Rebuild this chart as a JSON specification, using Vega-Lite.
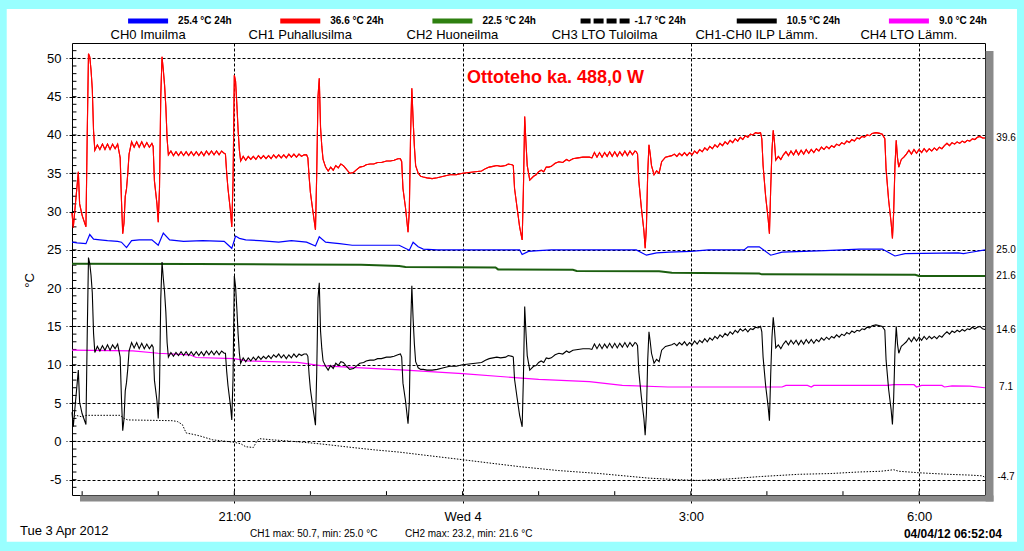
{
  "$schema": "https://vega.github.io/schema/vega-lite/v6.json",
  "width": 913,
  "height": 452,
  "autosize": "none",
  "padding": {"left": 72, "top": 43, "right": 39, "bottom": 56},
  "background": "white",
  "config": {
    "font": "Liberation Sans",
    "view": {"stroke": "black", "strokeWidth": 1},
    "locale": {"number": {"decimal": ".", "thousands": ",", "grouping": [3], "currency": ["$", ""], "minus": "-"}},
    "axis": {
      "zindex": 1,
      "domain": false,
      "gridColor": "black",
      "gridDash": [3, 2],
      "gridOpacity": 1,
      "gridWidth": 1,
      "tickColor": "black",
      "tickDash": [3, 2],
      "tickWidth": 1,
      "labelFont": "Liberation Sans",
      "labelFontSize": 13,
      "labelColor": "black",
      "titleFont": "Liberation Sans",
      "titleFontSize": 13,
      "titleFontWeight": "normal",
      "titleColor": "black"
    }
  },
  "datasets": {
    "f": [
      {"t": "2012-04-03T18:52", "ch1": 29.8, "ilp": 3.8},
      {"t": "2012-04-03T18:53", "ch1": 27.9, "ilp": 1.9},
      {"t": "2012-04-03T18:57", "ch1": 35.2, "ilp": 9.3},
      {"t": "2012-04-03T18:58", "ch1": 31.0, "ilp": 5.1},
      {"t": "2012-04-03T19:00", "ch1": 29.5, "ilp": 3.6},
      {"t": "2012-04-03T19:03", "ch1": 28.0, "ilp": 2.2},
      {"t": "2012-04-03T19:04", "ch1": 40.0, "ilp": 13.8},
      {"t": "2012-04-03T19:05", "ch1": 50.6, "ilp": 24.0},
      {"t": "2012-04-03T19:06", "ch1": 50.2, "ilp": 23.2},
      {"t": "2012-04-03T19:07", "ch1": 48.5, "ilp": 21.7},
      {"t": "2012-04-03T19:08", "ch1": 46.0, "ilp": 19.4},
      {"t": "2012-04-03T19:09", "ch1": 40.5, "ilp": 14.1},
      {"t": "2012-04-03T19:10", "ch1": 38.0, "ilp": 11.6},
      {"t": "2012-04-03T19:12", "ch1": 38.7, "ilp": 12.4},
      {"t": "2012-04-03T19:14", "ch1": 38.1, "ilp": 11.8},
      {"t": "2012-04-03T19:16", "ch1": 38.8, "ilp": 12.5},
      {"t": "2012-04-03T19:18", "ch1": 38.1, "ilp": 11.9},
      {"t": "2012-04-03T19:20", "ch1": 38.8, "ilp": 12.6},
      {"t": "2012-04-03T19:22", "ch1": 38.1, "ilp": 11.9},
      {"t": "2012-04-03T19:24", "ch1": 38.8, "ilp": 12.6},
      {"t": "2012-04-03T19:26", "ch1": 38.2, "ilp": 12.1},
      {"t": "2012-04-03T19:28", "ch1": 38.8, "ilp": 12.7},
      {"t": "2012-04-03T19:30", "ch1": 37.0, "ilp": 11.0},
      {"t": "2012-04-03T19:31", "ch1": 31.5, "ilp": 5.6},
      {"t": "2012-04-03T19:32", "ch1": 27.1, "ilp": 1.4},
      {"t": "2012-04-03T19:33", "ch1": 28.5, "ilp": 2.9},
      {"t": "2012-04-03T19:34", "ch1": 32.0, "ilp": 6.6},
      {"t": "2012-04-03T19:35", "ch1": 33.0, "ilp": 7.7},
      {"t": "2012-04-03T19:36", "ch1": 35.0, "ilp": 9.5},
      {"t": "2012-04-03T19:37", "ch1": 37.5, "ilp": 11.8},
      {"t": "2012-04-03T19:39", "ch1": 39.1, "ilp": 12.9},
      {"t": "2012-04-03T19:41", "ch1": 38.4, "ilp": 12.2},
      {"t": "2012-04-03T19:43", "ch1": 39.1, "ilp": 12.9},
      {"t": "2012-04-03T19:45", "ch1": 38.4, "ilp": 12.1},
      {"t": "2012-04-03T19:47", "ch1": 39.1, "ilp": 12.8},
      {"t": "2012-04-03T19:49", "ch1": 38.4, "ilp": 12.1},
      {"t": "2012-04-03T19:51", "ch1": 39.0, "ilp": 12.7},
      {"t": "2012-04-03T19:53", "ch1": 38.4, "ilp": 12.1},
      {"t": "2012-04-03T19:55", "ch1": 38.9, "ilp": 12.6},
      {"t": "2012-04-03T19:56", "ch1": 38.5, "ilp": 12.3},
      {"t": "2012-04-03T19:57", "ch1": 34.0, "ilp": 8.0},
      {"t": "2012-04-03T19:59", "ch1": 31.0, "ilp": 5.3},
      {"t": "2012-04-03T20:00", "ch1": 28.6, "ilp": 3.0},
      {"t": "2012-04-03T20:01", "ch1": 33.0, "ilp": 7.0},
      {"t": "2012-04-03T20:02", "ch1": 45.0, "ilp": 18.6},
      {"t": "2012-04-03T20:03", "ch1": 50.2, "ilp": 23.4},
      {"t": "2012-04-03T20:04", "ch1": 48.5, "ilp": 21.3},
      {"t": "2012-04-03T20:05", "ch1": 46.5, "ilp": 19.5},
      {"t": "2012-04-03T20:06", "ch1": 43.7, "ilp": 16.9},
      {"t": "2012-04-03T20:07", "ch1": 39.5, "ilp": 12.9},
      {"t": "2012-04-03T20:08", "ch1": 37.4, "ilp": 11.0},
      {"t": "2012-04-03T20:10", "ch1": 37.9, "ilp": 11.6},
      {"t": "2012-04-03T20:12", "ch1": 37.3, "ilp": 11.1},
      {"t": "2012-04-03T20:14", "ch1": 37.8, "ilp": 11.6},
      {"t": "2012-04-03T20:16", "ch1": 37.3, "ilp": 11.2},
      {"t": "2012-04-03T20:18", "ch1": 37.8, "ilp": 11.7},
      {"t": "2012-04-03T20:20", "ch1": 37.3, "ilp": 11.2},
      {"t": "2012-04-03T20:22", "ch1": 37.8, "ilp": 11.7},
      {"t": "2012-04-03T20:24", "ch1": 37.3, "ilp": 11.2},
      {"t": "2012-04-03T20:26", "ch1": 37.8, "ilp": 11.7},
      {"t": "2012-04-03T20:28", "ch1": 37.3, "ilp": 11.2},
      {"t": "2012-04-03T20:30", "ch1": 37.8, "ilp": 11.7},
      {"t": "2012-04-03T20:32", "ch1": 37.3, "ilp": 11.2},
      {"t": "2012-04-03T20:34", "ch1": 37.8, "ilp": 11.7},
      {"t": "2012-04-03T20:36", "ch1": 37.3, "ilp": 11.2},
      {"t": "2012-04-03T20:38", "ch1": 37.9, "ilp": 11.8},
      {"t": "2012-04-03T20:40", "ch1": 37.4, "ilp": 11.3},
      {"t": "2012-04-03T20:42", "ch1": 37.9, "ilp": 11.8},
      {"t": "2012-04-03T20:44", "ch1": 37.4, "ilp": 11.3},
      {"t": "2012-04-03T20:46", "ch1": 37.9, "ilp": 11.8},
      {"t": "2012-04-03T20:48", "ch1": 37.4, "ilp": 11.3},
      {"t": "2012-04-03T20:50", "ch1": 37.9, "ilp": 11.8},
      {"t": "2012-04-03T20:52", "ch1": 37.6, "ilp": 11.5},
      {"t": "2012-04-03T20:53", "ch1": 37.5, "ilp": 11.5},
      {"t": "2012-04-03T20:54", "ch1": 35.0, "ilp": 9.1},
      {"t": "2012-04-03T20:55", "ch1": 33.0, "ilp": 7.3},
      {"t": "2012-04-03T20:57", "ch1": 30.0, "ilp": 4.6},
      {"t": "2012-04-03T20:58", "ch1": 28.0, "ilp": 2.8},
      {"t": "2012-04-03T20:59", "ch1": 34.0, "ilp": 8.3},
      {"t": "2012-04-03T21:00", "ch1": 47.8, "ilp": 21.6},
      {"t": "2012-04-03T21:01", "ch1": 47.0, "ilp": 20.2},
      {"t": "2012-04-03T21:02", "ch1": 44.0, "ilp": 17.3},
      {"t": "2012-04-03T21:03", "ch1": 40.6, "ilp": 14.0},
      {"t": "2012-04-03T21:04", "ch1": 38.0, "ilp": 11.5},
      {"t": "2012-04-03T21:05", "ch1": 36.6, "ilp": 10.2},
      {"t": "2012-04-03T21:07", "ch1": 37.2, "ilp": 10.9},
      {"t": "2012-04-03T21:09", "ch1": 36.7, "ilp": 10.4},
      {"t": "2012-04-03T21:11", "ch1": 37.2, "ilp": 10.9},
      {"t": "2012-04-03T21:13", "ch1": 36.8, "ilp": 10.5},
      {"t": "2012-04-03T21:15", "ch1": 37.2, "ilp": 11.0},
      {"t": "2012-04-03T21:17", "ch1": 36.8, "ilp": 10.6},
      {"t": "2012-04-03T21:19", "ch1": 37.3, "ilp": 11.1},
      {"t": "2012-04-03T21:21", "ch1": 36.9, "ilp": 10.7},
      {"t": "2012-04-03T21:23", "ch1": 37.3, "ilp": 11.1},
      {"t": "2012-04-03T21:25", "ch1": 36.9, "ilp": 10.8},
      {"t": "2012-04-03T21:27", "ch1": 37.3, "ilp": 11.2},
      {"t": "2012-04-03T21:29", "ch1": 36.9, "ilp": 10.8},
      {"t": "2012-04-03T21:31", "ch1": 37.4, "ilp": 11.3},
      {"t": "2012-04-03T21:33", "ch1": 37.0, "ilp": 11.0},
      {"t": "2012-04-03T21:35", "ch1": 37.4, "ilp": 11.4},
      {"t": "2012-04-03T21:37", "ch1": 37.0, "ilp": 10.9},
      {"t": "2012-04-03T21:39", "ch1": 37.4, "ilp": 11.3},
      {"t": "2012-04-03T21:41", "ch1": 37.0, "ilp": 10.8},
      {"t": "2012-04-03T21:43", "ch1": 37.5, "ilp": 11.3},
      {"t": "2012-04-03T21:45", "ch1": 37.1, "ilp": 10.9},
      {"t": "2012-04-03T21:47", "ch1": 37.5, "ilp": 11.4},
      {"t": "2012-04-03T21:49", "ch1": 37.1, "ilp": 11.0},
      {"t": "2012-04-03T21:51", "ch1": 37.5, "ilp": 11.4},
      {"t": "2012-04-03T21:53", "ch1": 37.2, "ilp": 11.2},
      {"t": "2012-04-03T21:55", "ch1": 37.4, "ilp": 11.4},
      {"t": "2012-04-03T21:57", "ch1": 37.4, "ilp": 11.4},
      {"t": "2012-04-03T21:58", "ch1": 37.0, "ilp": 11.1},
      {"t": "2012-04-03T21:59", "ch1": 34.5, "ilp": 8.7},
      {"t": "2012-04-03T22:00", "ch1": 32.5, "ilp": 6.8},
      {"t": "2012-04-03T22:02", "ch1": 30.0, "ilp": 4.4},
      {"t": "2012-04-03T22:04", "ch1": 27.6, "ilp": 2.1},
      {"t": "2012-04-03T22:05", "ch1": 35.0, "ilp": 9.1},
      {"t": "2012-04-03T22:06", "ch1": 45.0, "ilp": 18.7},
      {"t": "2012-04-03T22:07", "ch1": 47.4, "ilp": 20.7},
      {"t": "2012-04-03T22:08", "ch1": 41.0, "ilp": 14.4},
      {"t": "2012-04-03T22:09", "ch1": 38.5, "ilp": 12.1},
      {"t": "2012-04-03T22:10", "ch1": 36.8, "ilp": 10.5},
      {"t": "2012-04-03T22:12", "ch1": 35.8, "ilp": 9.8},
      {"t": "2012-04-03T22:14", "ch1": 35.3, "ilp": 9.3},
      {"t": "2012-04-03T22:16", "ch1": 35.8, "ilp": 9.9},
      {"t": "2012-04-03T22:18", "ch1": 35.4, "ilp": 9.5},
      {"t": "2012-04-03T22:20", "ch1": 36.0, "ilp": 10.2},
      {"t": "2012-04-03T22:22", "ch1": 35.7, "ilp": 9.9},
      {"t": "2012-04-03T22:24", "ch1": 36.2, "ilp": 10.4},
      {"t": "2012-04-03T22:26", "ch1": 36.0, "ilp": 10.3},
      {"t": "2012-04-03T22:28", "ch1": 35.6, "ilp": 9.9},
      {"t": "2012-04-03T22:31", "ch1": 35.0, "ilp": 9.4},
      {"t": "2012-04-03T22:34", "ch1": 35.1, "ilp": 9.5},
      {"t": "2012-04-03T22:36", "ch1": 35.4, "ilp": 9.8},
      {"t": "2012-04-03T22:39", "ch1": 35.8, "ilp": 10.2},
      {"t": "2012-04-03T22:42", "ch1": 35.9, "ilp": 10.3},
      {"t": "2012-04-03T22:44", "ch1": 36.1, "ilp": 10.5},
      {"t": "2012-04-03T22:47", "ch1": 36.2, "ilp": 10.6},
      {"t": "2012-04-03T22:50", "ch1": 36.2, "ilp": 10.6},
      {"t": "2012-04-03T22:53", "ch1": 36.4, "ilp": 10.8},
      {"t": "2012-04-03T22:56", "ch1": 36.4, "ilp": 10.8},
      {"t": "2012-04-03T23:00", "ch1": 36.6, "ilp": 11.0},
      {"t": "2012-04-03T23:03", "ch1": 36.6, "ilp": 11.0},
      {"t": "2012-04-03T23:06", "ch1": 36.7, "ilp": 11.1},
      {"t": "2012-04-03T23:09", "ch1": 36.9, "ilp": 11.3},
      {"t": "2012-04-03T23:11", "ch1": 36.9, "ilp": 11.4},
      {"t": "2012-04-03T23:12", "ch1": 36.5, "ilp": 11.0},
      {"t": "2012-04-03T23:13", "ch1": 33.0, "ilp": 7.6},
      {"t": "2012-04-03T23:15", "ch1": 30.5, "ilp": 5.3},
      {"t": "2012-04-03T23:17", "ch1": 27.3, "ilp": 2.3},
      {"t": "2012-04-03T23:18", "ch1": 30.0, "ilp": 5.0},
      {"t": "2012-04-03T23:19", "ch1": 40.0, "ilp": 14.6},
      {"t": "2012-04-03T23:20", "ch1": 46.1, "ilp": 20.3},
      {"t": "2012-04-03T23:21", "ch1": 42.0, "ilp": 16.0},
      {"t": "2012-04-03T23:22", "ch1": 38.5, "ilp": 12.7},
      {"t": "2012-04-03T23:23", "ch1": 36.0, "ilp": 10.4},
      {"t": "2012-04-03T23:25", "ch1": 35.0, "ilp": 9.6},
      {"t": "2012-04-03T23:27", "ch1": 34.6, "ilp": 9.4},
      {"t": "2012-04-03T23:29", "ch1": 34.5, "ilp": 9.4},
      {"t": "2012-04-03T23:32", "ch1": 34.4, "ilp": 9.3},
      {"t": "2012-04-03T23:36", "ch1": 34.3, "ilp": 9.3},
      {"t": "2012-04-03T23:40", "ch1": 34.4, "ilp": 9.4},
      {"t": "2012-04-03T23:45", "ch1": 34.6, "ilp": 9.6},
      {"t": "2012-04-03T23:50", "ch1": 34.8, "ilp": 9.8},
      {"t": "2012-04-03T23:55", "ch1": 34.8, "ilp": 9.8},
      {"t": "2012-04-04T00:00", "ch1": 35.0, "ilp": 10.0},
      {"t": "2012-04-04T00:05", "ch1": 35.1, "ilp": 10.1},
      {"t": "2012-04-04T00:10", "ch1": 35.2, "ilp": 10.2},
      {"t": "2012-04-04T00:15", "ch1": 35.3, "ilp": 10.3},
      {"t": "2012-04-04T00:18", "ch1": 35.6, "ilp": 10.6},
      {"t": "2012-04-04T00:21", "ch1": 35.8, "ilp": 10.8},
      {"t": "2012-04-04T00:24", "ch1": 35.9, "ilp": 10.9},
      {"t": "2012-04-04T00:27", "ch1": 36.0, "ilp": 11.0},
      {"t": "2012-04-04T00:30", "ch1": 35.9, "ilp": 10.9},
      {"t": "2012-04-04T00:34", "ch1": 36.0, "ilp": 11.0},
      {"t": "2012-04-04T00:36", "ch1": 36.2, "ilp": 11.2},
      {"t": "2012-04-04T00:39", "ch1": 36.1, "ilp": 11.1},
      {"t": "2012-04-04T00:40", "ch1": 36.0, "ilp": 11.0},
      {"t": "2012-04-04T00:41", "ch1": 33.0, "ilp": 8.1},
      {"t": "2012-04-04T00:43", "ch1": 30.5, "ilp": 5.7},
      {"t": "2012-04-04T00:45", "ch1": 28.0, "ilp": 3.4},
      {"t": "2012-04-04T00:47", "ch1": 26.3, "ilp": 1.9},
      {"t": "2012-04-04T00:48", "ch1": 33.0, "ilp": 8.4},
      {"t": "2012-04-04T00:49", "ch1": 42.4, "ilp": 17.6},
      {"t": "2012-04-04T00:50", "ch1": 39.0, "ilp": 14.2},
      {"t": "2012-04-04T00:51", "ch1": 36.0, "ilp": 11.2},
      {"t": "2012-04-04T00:53", "ch1": 34.1, "ilp": 9.3},
      {"t": "2012-04-04T00:56", "ch1": 34.6, "ilp": 9.8},
      {"t": "2012-04-04T00:58", "ch1": 34.8, "ilp": 9.9},
      {"t": "2012-04-04T01:00", "ch1": 35.2, "ilp": 10.3},
      {"t": "2012-04-04T01:02", "ch1": 35.4, "ilp": 10.5},
      {"t": "2012-04-04T01:04", "ch1": 35.2, "ilp": 10.3},
      {"t": "2012-04-04T01:06", "ch1": 35.8, "ilp": 10.9},
      {"t": "2012-04-04T01:08", "ch1": 35.8, "ilp": 10.8},
      {"t": "2012-04-04T01:10", "ch1": 35.9, "ilp": 10.9},
      {"t": "2012-04-04T01:13", "ch1": 36.3, "ilp": 11.3},
      {"t": "2012-04-04T01:16", "ch1": 36.5, "ilp": 11.5},
      {"t": "2012-04-04T01:19", "ch1": 36.4, "ilp": 11.4},
      {"t": "2012-04-04T01:22", "ch1": 36.8, "ilp": 11.8},
      {"t": "2012-04-04T01:24", "ch1": 36.6, "ilp": 11.6},
      {"t": "2012-04-04T01:27", "ch1": 36.9, "ilp": 11.9},
      {"t": "2012-04-04T01:31", "ch1": 37.0, "ilp": 12.0},
      {"t": "2012-04-04T01:35", "ch1": 37.1, "ilp": 12.1},
      {"t": "2012-04-04T01:40", "ch1": 37.1, "ilp": 12.1},
      {"t": "2012-04-04T01:42", "ch1": 37.0, "ilp": 12.0},
      {"t": "2012-04-04T01:44", "ch1": 37.7, "ilp": 12.7},
      {"t": "2012-04-04T01:46", "ch1": 37.1, "ilp": 12.1},
      {"t": "2012-04-04T01:48", "ch1": 37.7, "ilp": 12.7},
      {"t": "2012-04-04T01:50", "ch1": 37.1, "ilp": 12.1},
      {"t": "2012-04-04T01:52", "ch1": 37.7, "ilp": 12.7},
      {"t": "2012-04-04T01:54", "ch1": 37.2, "ilp": 12.2},
      {"t": "2012-04-04T01:56", "ch1": 37.8, "ilp": 12.8},
      {"t": "2012-04-04T01:58", "ch1": 37.2, "ilp": 12.2},
      {"t": "2012-04-04T02:00", "ch1": 37.8, "ilp": 12.8},
      {"t": "2012-04-04T02:02", "ch1": 37.2, "ilp": 12.2},
      {"t": "2012-04-04T02:04", "ch1": 37.8, "ilp": 12.8},
      {"t": "2012-04-04T02:06", "ch1": 37.3, "ilp": 12.3},
      {"t": "2012-04-04T02:08", "ch1": 37.9, "ilp": 12.9},
      {"t": "2012-04-04T02:10", "ch1": 37.3, "ilp": 12.3},
      {"t": "2012-04-04T02:12", "ch1": 37.9, "ilp": 12.9},
      {"t": "2012-04-04T02:14", "ch1": 37.4, "ilp": 12.4},
      {"t": "2012-04-04T02:16", "ch1": 37.9, "ilp": 12.9},
      {"t": "2012-04-04T02:17", "ch1": 37.8, "ilp": 12.8},
      {"t": "2012-04-04T02:18", "ch1": 37.5, "ilp": 12.5},
      {"t": "2012-04-04T02:19", "ch1": 34.0, "ilp": 9.1},
      {"t": "2012-04-04T02:21", "ch1": 30.5, "ilp": 5.8},
      {"t": "2012-04-04T02:23", "ch1": 27.5, "ilp": 3.0},
      {"t": "2012-04-04T02:24", "ch1": 25.2, "ilp": 0.8},
      {"t": "2012-04-04T02:25", "ch1": 28.0, "ilp": 3.7},
      {"t": "2012-04-04T02:26", "ch1": 35.0, "ilp": 10.6},
      {"t": "2012-04-04T02:27", "ch1": 38.7, "ilp": 14.3},
      {"t": "2012-04-04T02:28", "ch1": 37.5, "ilp": 13.0},
      {"t": "2012-04-04T02:29", "ch1": 36.0, "ilp": 11.5},
      {"t": "2012-04-04T02:31", "ch1": 34.8, "ilp": 10.2},
      {"t": "2012-04-04T02:33", "ch1": 35.3, "ilp": 10.7},
      {"t": "2012-04-04T02:35", "ch1": 35.0, "ilp": 10.4},
      {"t": "2012-04-04T02:37", "ch1": 36.5, "ilp": 11.9},
      {"t": "2012-04-04T02:40", "ch1": 37.1, "ilp": 12.4},
      {"t": "2012-04-04T02:45", "ch1": 37.3, "ilp": 12.6},
      {"t": "2012-04-04T02:47", "ch1": 37.5, "ilp": 12.8},
      {"t": "2012-04-04T02:49", "ch1": 37.2, "ilp": 12.5},
      {"t": "2012-04-04T02:51", "ch1": 37.6, "ilp": 12.9},
      {"t": "2012-04-04T02:53", "ch1": 37.3, "ilp": 12.6},
      {"t": "2012-04-04T02:55", "ch1": 37.7, "ilp": 13.0},
      {"t": "2012-04-04T02:57", "ch1": 37.3, "ilp": 12.5},
      {"t": "2012-04-04T02:59", "ch1": 37.7, "ilp": 12.9},
      {"t": "2012-04-04T03:01", "ch1": 37.4, "ilp": 12.6},
      {"t": "2012-04-04T03:03", "ch1": 37.9, "ilp": 13.1},
      {"t": "2012-04-04T03:05", "ch1": 37.6, "ilp": 12.7},
      {"t": "2012-04-04T03:07", "ch1": 38.1, "ilp": 13.2},
      {"t": "2012-04-04T03:09", "ch1": 37.8, "ilp": 12.9},
      {"t": "2012-04-04T03:11", "ch1": 38.3, "ilp": 13.4},
      {"t": "2012-04-04T03:13", "ch1": 38.0, "ilp": 13.0},
      {"t": "2012-04-04T03:15", "ch1": 38.5, "ilp": 13.5},
      {"t": "2012-04-04T03:17", "ch1": 38.2, "ilp": 13.2},
      {"t": "2012-04-04T03:19", "ch1": 38.7, "ilp": 13.7},
      {"t": "2012-04-04T03:21", "ch1": 38.4, "ilp": 13.4},
      {"t": "2012-04-04T03:23", "ch1": 38.9, "ilp": 13.9},
      {"t": "2012-04-04T03:25", "ch1": 38.6, "ilp": 13.6},
      {"t": "2012-04-04T03:27", "ch1": 39.1, "ilp": 14.1},
      {"t": "2012-04-04T03:29", "ch1": 38.8, "ilp": 13.8},
      {"t": "2012-04-04T03:31", "ch1": 39.3, "ilp": 14.3},
      {"t": "2012-04-04T03:33", "ch1": 39.0, "ilp": 14.0},
      {"t": "2012-04-04T03:35", "ch1": 39.5, "ilp": 14.5},
      {"t": "2012-04-04T03:37", "ch1": 39.2, "ilp": 14.2},
      {"t": "2012-04-04T03:39", "ch1": 39.7, "ilp": 14.7},
      {"t": "2012-04-04T03:41", "ch1": 39.4, "ilp": 14.4},
      {"t": "2012-04-04T03:43", "ch1": 39.9, "ilp": 14.7},
      {"t": "2012-04-04T03:45", "ch1": 39.7, "ilp": 14.3},
      {"t": "2012-04-04T03:47", "ch1": 40.1, "ilp": 14.7},
      {"t": "2012-04-04T03:49", "ch1": 40.0, "ilp": 14.6},
      {"t": "2012-04-04T03:51", "ch1": 40.3, "ilp": 14.9},
      {"t": "2012-04-04T03:53", "ch1": 40.2, "ilp": 14.8},
      {"t": "2012-04-04T03:55", "ch1": 40.3, "ilp": 15.0},
      {"t": "2012-04-04T03:56", "ch1": 39.5, "ilp": 14.3},
      {"t": "2012-04-04T03:57", "ch1": 36.0, "ilp": 11.0},
      {"t": "2012-04-04T03:59", "ch1": 32.0, "ilp": 7.3},
      {"t": "2012-04-04T04:01", "ch1": 29.0, "ilp": 4.5},
      {"t": "2012-04-04T04:02", "ch1": 27.1, "ilp": 2.7},
      {"t": "2012-04-04T04:03", "ch1": 33.0, "ilp": 8.7},
      {"t": "2012-04-04T04:04", "ch1": 38.0, "ilp": 13.6},
      {"t": "2012-04-04T04:05", "ch1": 40.6, "ilp": 16.2},
      {"t": "2012-04-04T04:06", "ch1": 39.0, "ilp": 14.5},
      {"t": "2012-04-04T04:07", "ch1": 36.7, "ilp": 12.2},
      {"t": "2012-04-04T04:09", "ch1": 37.2, "ilp": 12.6},
      {"t": "2012-04-04T04:11", "ch1": 36.8, "ilp": 12.1},
      {"t": "2012-04-04T04:13", "ch1": 37.4, "ilp": 12.7},
      {"t": "2012-04-04T04:15", "ch1": 37.8, "ilp": 13.1},
      {"t": "2012-04-04T04:17", "ch1": 37.3, "ilp": 12.6},
      {"t": "2012-04-04T04:19", "ch1": 37.9, "ilp": 13.2},
      {"t": "2012-04-04T04:21", "ch1": 37.4, "ilp": 12.7},
      {"t": "2012-04-04T04:23", "ch1": 38.0, "ilp": 13.2},
      {"t": "2012-04-04T04:25", "ch1": 37.4, "ilp": 12.6},
      {"t": "2012-04-04T04:27", "ch1": 38.0, "ilp": 13.2},
      {"t": "2012-04-04T04:29", "ch1": 37.5, "ilp": 12.7},
      {"t": "2012-04-04T04:31", "ch1": 38.1, "ilp": 13.3},
      {"t": "2012-04-04T04:33", "ch1": 37.6, "ilp": 12.8},
      {"t": "2012-04-04T04:35", "ch1": 38.1, "ilp": 13.3},
      {"t": "2012-04-04T04:37", "ch1": 37.7, "ilp": 12.8},
      {"t": "2012-04-04T04:39", "ch1": 38.2, "ilp": 13.3},
      {"t": "2012-04-04T04:41", "ch1": 37.9, "ilp": 13.0},
      {"t": "2012-04-04T04:43", "ch1": 38.4, "ilp": 13.5},
      {"t": "2012-04-04T04:45", "ch1": 38.1, "ilp": 13.2},
      {"t": "2012-04-04T04:47", "ch1": 38.5, "ilp": 13.6},
      {"t": "2012-04-04T04:49", "ch1": 38.2, "ilp": 13.3},
      {"t": "2012-04-04T04:51", "ch1": 38.6, "ilp": 13.7},
      {"t": "2012-04-04T04:53", "ch1": 38.4, "ilp": 13.5},
      {"t": "2012-04-04T04:55", "ch1": 38.8, "ilp": 13.9},
      {"t": "2012-04-04T04:57", "ch1": 38.6, "ilp": 13.6},
      {"t": "2012-04-04T04:59", "ch1": 39.0, "ilp": 14.0},
      {"t": "2012-04-04T05:01", "ch1": 38.8, "ilp": 13.8},
      {"t": "2012-04-04T05:03", "ch1": 39.2, "ilp": 14.2},
      {"t": "2012-04-04T05:05", "ch1": 39.0, "ilp": 14.0},
      {"t": "2012-04-04T05:07", "ch1": 39.4, "ilp": 14.4},
      {"t": "2012-04-04T05:09", "ch1": 39.2, "ilp": 14.2},
      {"t": "2012-04-04T05:11", "ch1": 39.6, "ilp": 14.5},
      {"t": "2012-04-04T05:13", "ch1": 39.5, "ilp": 14.4},
      {"t": "2012-04-04T05:15", "ch1": 39.8, "ilp": 14.7},
      {"t": "2012-04-04T05:17", "ch1": 39.7, "ilp": 14.6},
      {"t": "2012-04-04T05:19", "ch1": 40.0, "ilp": 14.9},
      {"t": "2012-04-04T05:21", "ch1": 39.9, "ilp": 14.8},
      {"t": "2012-04-04T05:23", "ch1": 40.2, "ilp": 15.1},
      {"t": "2012-04-04T05:26", "ch1": 40.3, "ilp": 15.2},
      {"t": "2012-04-04T05:29", "ch1": 40.2, "ilp": 15.1},
      {"t": "2012-04-04T05:31", "ch1": 40.1, "ilp": 15.0},
      {"t": "2012-04-04T05:33", "ch1": 39.5, "ilp": 14.5},
      {"t": "2012-04-04T05:34", "ch1": 35.5, "ilp": 10.6},
      {"t": "2012-04-04T05:36", "ch1": 31.5, "ilp": 6.8},
      {"t": "2012-04-04T05:38", "ch1": 28.5, "ilp": 4.1},
      {"t": "2012-04-04T05:39", "ch1": 26.5, "ilp": 2.2},
      {"t": "2012-04-04T05:40", "ch1": 30.0, "ilp": 5.8},
      {"t": "2012-04-04T05:41", "ch1": 36.0, "ilp": 11.8},
      {"t": "2012-04-04T05:42", "ch1": 39.3, "ilp": 15.0},
      {"t": "2012-04-04T05:43", "ch1": 37.0, "ilp": 12.7},
      {"t": "2012-04-04T05:44", "ch1": 35.8, "ilp": 11.5},
      {"t": "2012-04-04T05:46", "ch1": 36.8, "ilp": 12.4},
      {"t": "2012-04-04T05:48", "ch1": 37.1, "ilp": 12.7},
      {"t": "2012-04-04T05:50", "ch1": 37.5, "ilp": 13.0},
      {"t": "2012-04-04T05:52", "ch1": 38.0, "ilp": 13.5},
      {"t": "2012-04-04T05:54", "ch1": 37.5, "ilp": 13.0},
      {"t": "2012-04-04T05:56", "ch1": 38.1, "ilp": 13.6},
      {"t": "2012-04-04T05:58", "ch1": 37.6, "ilp": 13.1},
      {"t": "2012-04-04T06:00", "ch1": 38.1, "ilp": 13.6},
      {"t": "2012-04-04T06:02", "ch1": 37.7, "ilp": 13.2},
      {"t": "2012-04-04T06:04", "ch1": 38.2, "ilp": 13.7},
      {"t": "2012-04-04T06:06", "ch1": 37.8, "ilp": 13.3},
      {"t": "2012-04-04T06:08", "ch1": 38.2, "ilp": 13.7},
      {"t": "2012-04-04T06:10", "ch1": 37.9, "ilp": 13.4},
      {"t": "2012-04-04T06:12", "ch1": 38.3, "ilp": 13.7},
      {"t": "2012-04-04T06:14", "ch1": 38.0, "ilp": 13.4},
      {"t": "2012-04-04T06:16", "ch1": 38.4, "ilp": 13.8},
      {"t": "2012-04-04T06:18", "ch1": 38.2, "ilp": 13.6},
      {"t": "2012-04-04T06:20", "ch1": 38.6, "ilp": 14.0},
      {"t": "2012-04-04T06:22", "ch1": 38.9, "ilp": 14.3},
      {"t": "2012-04-04T06:24", "ch1": 38.6, "ilp": 14.0},
      {"t": "2012-04-04T06:26", "ch1": 39.0, "ilp": 14.4},
      {"t": "2012-04-04T06:28", "ch1": 38.8, "ilp": 14.2},
      {"t": "2012-04-04T06:30", "ch1": 39.1, "ilp": 14.5},
      {"t": "2012-04-04T06:32", "ch1": 38.9, "ilp": 14.3},
      {"t": "2012-04-04T06:34", "ch1": 39.2, "ilp": 14.6},
      {"t": "2012-04-04T06:36", "ch1": 39.0, "ilp": 14.4},
      {"t": "2012-04-04T06:38", "ch1": 39.3, "ilp": 14.7},
      {"t": "2012-04-04T06:40", "ch1": 39.2, "ilp": 14.6},
      {"t": "2012-04-04T06:42", "ch1": 39.5, "ilp": 14.9},
      {"t": "2012-04-04T06:44", "ch1": 39.4, "ilp": 14.7},
      {"t": "2012-04-04T06:46", "ch1": 39.7, "ilp": 14.9},
      {"t": "2012-04-04T06:48", "ch1": 39.8, "ilp": 15.0},
      {"t": "2012-04-04T06:50", "ch1": 39.6, "ilp": 14.7},
      {"t": "2012-04-04T06:52", "ch1": 39.6, "ilp": 14.6}
    ],
    "b": [
      {"t": "2012-04-03T18:52", "v": 26.0}, {"t": "2012-04-03T18:56", "v": 25.9}, {"t": "2012-04-03T19:03", "v": 25.8},
      {"t": "2012-04-03T19:06", "v": 27.0}, {"t": "2012-04-03T19:09", "v": 26.4}, {"t": "2012-04-03T19:14", "v": 26.3},
      {"t": "2012-04-03T19:20", "v": 26.2}, {"t": "2012-04-03T19:28", "v": 26.1}, {"t": "2012-04-03T19:31", "v": 26.0},
      {"t": "2012-04-03T19:35", "v": 25.3}, {"t": "2012-04-03T19:39", "v": 26.2}, {"t": "2012-04-03T19:45", "v": 26.3},
      {"t": "2012-04-03T19:55", "v": 26.3}, {"t": "2012-04-03T20:00", "v": 25.6}, {"t": "2012-04-03T20:04", "v": 27.2},
      {"t": "2012-04-03T20:09", "v": 26.3}, {"t": "2012-04-03T20:20", "v": 26.1}, {"t": "2012-04-03T20:35", "v": 26.2},
      {"t": "2012-04-03T20:52", "v": 26.1}, {"t": "2012-04-03T20:58", "v": 25.2}, {"t": "2012-04-03T21:01", "v": 26.8},
      {"t": "2012-04-03T21:04", "v": 26.5}, {"t": "2012-04-03T21:09", "v": 26.3}, {"t": "2012-04-03T21:20", "v": 26.2},
      {"t": "2012-04-03T21:35", "v": 26.0}, {"t": "2012-04-03T21:45", "v": 26.2}, {"t": "2012-04-03T21:57", "v": 26.0},
      {"t": "2012-04-03T22:04", "v": 25.5}, {"t": "2012-04-03T22:07", "v": 26.7}, {"t": "2012-04-03T22:12", "v": 26.0},
      {"t": "2012-04-03T22:17", "v": 25.9}, {"t": "2012-04-03T22:23", "v": 25.8}, {"t": "2012-04-03T22:33", "v": 25.6},
      {"t": "2012-04-03T22:50", "v": 25.6}, {"t": "2012-04-03T23:10", "v": 25.6}, {"t": "2012-04-03T23:18", "v": 24.95},
      {"t": "2012-04-03T23:21", "v": 26.0}, {"t": "2012-04-03T23:25", "v": 25.4}, {"t": "2012-04-03T23:29", "v": 25.1},
      {"t": "2012-04-03T23:40", "v": 25.0}, {"t": "2012-04-04T00:00", "v": 25.0}, {"t": "2012-04-04T00:20", "v": 25.0},
      {"t": "2012-04-04T00:45", "v": 25.0}, {"t": "2012-04-04T00:47", "v": 24.4}, {"t": "2012-04-04T00:52", "v": 24.8},
      {"t": "2012-04-04T01:00", "v": 24.9}, {"t": "2012-04-04T01:10", "v": 25.0}, {"t": "2012-04-04T01:40", "v": 25.0},
      {"t": "2012-04-04T02:17", "v": 25.0}, {"t": "2012-04-04T02:25", "v": 24.3}, {"t": "2012-04-04T02:33", "v": 24.6},
      {"t": "2012-04-04T02:43", "v": 24.7}, {"t": "2012-04-04T03:00", "v": 24.8}, {"t": "2012-04-04T03:14", "v": 25.0},
      {"t": "2012-04-04T03:42", "v": 25.0}, {"t": "2012-04-04T03:45", "v": 25.4}, {"t": "2012-04-04T03:54", "v": 25.4},
      {"t": "2012-04-04T04:03", "v": 24.3}, {"t": "2012-04-04T04:12", "v": 24.7}, {"t": "2012-04-04T04:46", "v": 24.9},
      {"t": "2012-04-04T05:13", "v": 25.1}, {"t": "2012-04-04T05:31", "v": 25.1}, {"t": "2012-04-04T05:41", "v": 24.2},
      {"t": "2012-04-04T05:49", "v": 24.5}, {"t": "2012-04-04T06:31", "v": 24.6}, {"t": "2012-04-04T06:35", "v": 24.5},
      {"t": "2012-04-04T06:40", "v": 24.65}, {"t": "2012-04-04T06:52", "v": 25.0}
    ],
    "g": [
      {"t": "2012-04-03T18:52", "v": 23.2}, {"t": "2012-04-03T20:30", "v": 23.15}, {"t": "2012-04-03T21:45", "v": 23.1},
      {"t": "2012-04-03T22:40", "v": 23.05}, {"t": "2012-04-03T23:10", "v": 22.9}, {"t": "2012-04-03T23:15", "v": 22.75},
      {"t": "2012-04-04T00:26", "v": 22.7}, {"t": "2012-04-04T00:28", "v": 22.45}, {"t": "2012-04-04T01:27", "v": 22.4},
      {"t": "2012-04-04T01:30", "v": 22.25}, {"t": "2012-04-04T02:35", "v": 22.2}, {"t": "2012-04-04T02:45", "v": 22.0},
      {"t": "2012-04-04T03:54", "v": 21.9}, {"t": "2012-04-04T03:56", "v": 21.8}, {"t": "2012-04-04T05:57", "v": 21.75},
      {"t": "2012-04-04T06:00", "v": 21.6}, {"t": "2012-04-04T06:52", "v": 21.6}
    ],
    "m": [
      {"t": "2012-04-03T18:52", "v": 11.9}, {"t": "2012-04-03T19:40", "v": 11.8}, {"t": "2012-04-03T20:00", "v": 11.5},
      {"t": "2012-04-03T20:25", "v": 11.3}, {"t": "2012-04-03T20:30", "v": 10.95}, {"t": "2012-04-03T21:00", "v": 10.8},
      {"t": "2012-04-03T21:10", "v": 10.5}, {"t": "2012-04-03T21:50", "v": 10.3}, {"t": "2012-04-03T22:08", "v": 9.9},
      {"t": "2012-04-03T22:40", "v": 9.6}, {"t": "2012-04-03T23:15", "v": 9.3}, {"t": "2012-04-04T00:00", "v": 8.85},
      {"t": "2012-04-04T00:35", "v": 8.4}, {"t": "2012-04-04T01:00", "v": 8.1}, {"t": "2012-04-04T01:40", "v": 7.8},
      {"t": "2012-04-04T02:06", "v": 7.3}, {"t": "2012-04-04T02:42", "v": 7.1}, {"t": "2012-04-04T04:12", "v": 7.1},
      {"t": "2012-04-04T04:15", "v": 7.3}, {"t": "2012-04-04T04:32", "v": 7.3}, {"t": "2012-04-04T04:35", "v": 7.1},
      {"t": "2012-04-04T04:37", "v": 7.3}, {"t": "2012-04-04T05:35", "v": 7.3}, {"t": "2012-04-04T05:40", "v": 7.4},
      {"t": "2012-04-04T05:56", "v": 7.4}, {"t": "2012-04-04T05:58", "v": 7.1}, {"t": "2012-04-04T06:02", "v": 7.3},
      {"t": "2012-04-04T06:18", "v": 7.3}, {"t": "2012-04-04T06:20", "v": 7.1}, {"t": "2012-04-04T06:26", "v": 7.25},
      {"t": "2012-04-04T06:40", "v": 7.2}, {"t": "2012-04-04T06:52", "v": 7.0}
    ],
    "d": [
      {"t": "2012-04-03T18:52", "v": 3.0}, {"t": "2012-04-03T18:55", "v": 3.4}, {"t": "2012-04-03T19:00", "v": 3.2},
      {"t": "2012-04-03T19:03", "v": 3.4}, {"t": "2012-04-03T19:30", "v": 3.4}, {"t": "2012-04-03T19:33", "v": 3.0},
      {"t": "2012-04-03T19:36", "v": 2.8}, {"t": "2012-04-03T20:11", "v": 2.7}, {"t": "2012-04-03T20:15", "v": 2.6},
      {"t": "2012-04-03T20:19", "v": 2.2}, {"t": "2012-04-03T20:22", "v": 1.1}, {"t": "2012-04-03T20:28", "v": 0.9},
      {"t": "2012-04-03T20:33", "v": 0.7}, {"t": "2012-04-03T20:43", "v": 0.2}, {"t": "2012-04-03T20:54", "v": 0.0},
      {"t": "2012-04-03T20:59", "v": -0.1}, {"t": "2012-04-03T21:05", "v": -0.3}, {"t": "2012-04-03T21:09", "v": -0.7},
      {"t": "2012-04-03T21:15", "v": -0.8}, {"t": "2012-04-03T21:18", "v": 0.1}, {"t": "2012-04-03T21:20", "v": 0.35},
      {"t": "2012-04-03T21:30", "v": 0.2}, {"t": "2012-04-03T21:46", "v": 0.0}, {"t": "2012-04-03T22:00", "v": -0.2},
      {"t": "2012-04-03T22:12", "v": -0.4}, {"t": "2012-04-03T22:33", "v": -0.8}, {"t": "2012-04-03T22:50", "v": -1.1},
      {"t": "2012-04-03T23:10", "v": -1.4}, {"t": "2012-04-03T23:30", "v": -1.8}, {"t": "2012-04-03T23:58", "v": -2.35},
      {"t": "2012-04-04T00:20", "v": -2.8}, {"t": "2012-04-04T00:45", "v": -3.3}, {"t": "2012-04-04T01:15", "v": -3.8},
      {"t": "2012-04-04T01:48", "v": -4.2}, {"t": "2012-04-04T02:27", "v": -4.8}, {"t": "2012-04-04T02:50", "v": -5.0},
      {"t": "2012-04-04T03:06", "v": -5.1}, {"t": "2012-04-04T03:30", "v": -4.9}, {"t": "2012-04-04T03:54", "v": -4.6},
      {"t": "2012-04-04T04:25", "v": -4.3}, {"t": "2012-04-04T04:50", "v": -4.2}, {"t": "2012-04-04T05:12", "v": -4.0},
      {"t": "2012-04-04T05:30", "v": -3.9}, {"t": "2012-04-04T05:40", "v": -3.7}, {"t": "2012-04-04T05:44", "v": -3.9},
      {"t": "2012-04-04T06:00", "v": -4.1}, {"t": "2012-04-04T06:23", "v": -4.3}, {"t": "2012-04-04T06:40", "v": -4.4},
      {"t": "2012-04-04T06:50", "v": -4.5}, {"t": "2012-04-04T06:52", "v": -4.7}
    ],
    "e": [{"v": 39.6}, {"v": 25.0}, {"v": 21.6}, {"v": 14.6}, {"v": 7.1}, {"v": -4.7}],
    "yt": [
      {"v": -6}, {"v": -5}, {"v": -4}, {"v": -3}, {"v": -2}, {"v": -1}, {"v": 0}, {"v": 1}, {"v": 2}, {"v": 3},
      {"v": 4}, {"v": 5}, {"v": 6}, {"v": 7}, {"v": 8}, {"v": 9}, {"v": 10}, {"v": 11}, {"v": 12}, {"v": 13},
      {"v": 14}, {"v": 15}, {"v": 16}, {"v": 17}, {"v": 18}, {"v": 19}, {"v": 20}, {"v": 21}, {"v": 22}, {"v": 23},
      {"v": 24}, {"v": 25}, {"v": 26}, {"v": 27}, {"v": 28}, {"v": 29}, {"v": 30}, {"v": 31}, {"v": 32}, {"v": 33},
      {"v": 34}, {"v": 35}, {"v": 36}, {"v": 37}, {"v": 38}, {"v": 39}, {"v": 40}, {"v": 41}, {"v": 42}, {"v": 43},
      {"v": 44}, {"v": 45}, {"v": 46}, {"v": 47}, {"v": 48}, {"v": 49}, {"v": 50}, {"v": 51}
    ],
    "xt": [
      {"t": "2012-04-03T19:00"}, {"t": "2012-04-03T20:00"}, {"t": "2012-04-03T21:00"}, {"t": "2012-04-03T22:00"},
      {"t": "2012-04-03T23:00"}, {"t": "2012-04-04T00:00"}, {"t": "2012-04-04T01:00"}, {"t": "2012-04-04T02:00"},
      {"t": "2012-04-04T03:00"}, {"t": "2012-04-04T04:00"}, {"t": "2012-04-04T05:00"}, {"t": "2012-04-04T06:00"}
    ],
    "lg": [
      {"ch": "CH0", "val": "25.4 °C 24h", "name": "CH0 Imuilma"},
      {"ch": "CH1", "val": "36.6 °C 24h", "name": "CH1 Puhallusilma"},
      {"ch": "CH2", "val": "22.5 °C 24h", "name": "CH2 Huoneilma"},
      {"ch": "CH3", "val": "-1.7 °C 24h", "name": "CH3 LTO Tuloilma"},
      {"ch": "ILP", "val": "10.5 °C 24h", "name": "CH1-CH0 ILP Lämm."},
      {"ch": "CH4", "val": "9.0 °C 24h", "name": "CH4 LTO Lämm."}
    ]
  },
  "resolve": {"scale": {"x": "independent"}},
  "layer": [
    {
      "layer": [
        {
          "data": {"name": "f"},
          "mark": {"type": "line", "color": "#ff0000", "strokeWidth": 1.1},
          "encoding": {
            "x": {
              "field": "t", "type": "temporal",
              "scale": {"domain": [{"year": 2012, "month": 4, "date": 3, "hours": 18, "minutes": 52}, {"year": 2012, "month": 4, "date": 4, "hours": 6, "minutes": 52}]},
              "axis": {
                "title": null,
                "grid": true,
                "ticks": true,
                "labels": true,
                "orient": "bottom",
                "values": [{"year": 2012, "month": 4, "date": 3, "hours": 21}, {"year": 2012, "month": 4, "date": 4, "hours": 0}, {"year": 2012, "month": 4, "date": 4, "hours": 3}, {"year": 2012, "month": 4, "date": 4, "hours": 6}],
                "labelExpr": "hours(datum.value) == 0 ? timeFormat(datum.value, '%a %-d') : timeFormat(datum.value, '%-H:%M')",
                "tickSize": 8,
                "labelPadding": 7
              }
            },
            "y": {
              "field": "ch1", "type": "quantitative",
              "scale": {"domain": [-7, 52]},
              "axis": {
                "title": "°C",
                "grid": true,
                "ticks": true,
                "labels": true,
                "orient": "left",
                "values": [-5, 0, 5, 10, 15, 20, 25, 30, 35, 40, 45, 50],
                "tickSize": 6,
                "labelPadding": 5,
                "titleX": -36,
                "titleY": 237
              }
            }
          }
        },
        {
          "data": {"values": [{}]},
          "mark": {"type": "rect", "filled": false, "color": "#99ffff", "strokeWidth": 14},
          "encoding": {
            "x": {"datum": {"year": 2012, "month": 4, "date": 3, "hours": 17, "minutes": 55}, "type": "temporal", "scale": {"domain": [{"year": 2012, "month": 4, "date": 3, "hours": 18, "minutes": 52}, {"year": 2012, "month": 4, "date": 4, "hours": 6, "minutes": 52}]}},
            "x2": {"datum": {"year": 2012, "month": 4, "date": 4, "hours": 7, "minutes": 22, "seconds": 45}},
            "y": {"datum": 57.35, "type": "quantitative", "scale": {"domain": [-7, 52]}},
            "y2": {"datum": -14.01}
          }
        },
        {
          "data": {"values": [{}]},
          "mark": {"type": "rect", "color": "#8a8a8a"},
          "encoding": {
            "x": {"datum": {"year": 2012, "month": 4, "date": 4, "hours": 6, "minutes": 52, "seconds": 30}, "type": "temporal", "scale": {"domain": [{"year": 2012, "month": 4, "date": 3, "hours": 18, "minutes": 52}, {"year": 2012, "month": 4, "date": 4, "hours": 6, "minutes": 52}]}},
            "x2": {"datum": {"year": 2012, "month": 4, "date": 4, "hours": 6, "minutes": 58, "seconds": 42}},
            "y": {"datum": 50.96, "type": "quantitative", "scale": {"domain": [-7, 52]}},
            "y2": {"datum": -7.85}
          }
        },
        {
          "data": {"values": [{}]},
          "mark": {"type": "rect", "color": "#8a8a8a"},
          "encoding": {
            "x": {"datum": {"year": 2012, "month": 4, "date": 3, "hours": 18, "minutes": 58, "seconds": 18}, "type": "temporal", "scale": {"domain": [{"year": 2012, "month": 4, "date": 3, "hours": 18, "minutes": 52}, {"year": 2012, "month": 4, "date": 4, "hours": 6, "minutes": 52}]}},
            "x2": {"datum": {"year": 2012, "month": 4, "date": 4, "hours": 6, "minutes": 58, "seconds": 42}},
            "y": {"datum": -7.07, "type": "quantitative", "scale": {"domain": [-7, 52]}},
            "y2": {"datum": -7.85}
          }
        },
        {
          "data": {"name": "yt"},
          "mark": {"type": "rule", "color": "black", "strokeWidth": 1},
          "encoding": {
            "x": {"datum": {"year": 2012, "month": 4, "date": 3, "hours": 18, "minutes": 52}, "type": "temporal", "scale": {"domain": [{"year": 2012, "month": 4, "date": 3, "hours": 18, "minutes": 52}, {"year": 2012, "month": 4, "date": 4, "hours": 6, "minutes": 52}]}},
            "x2": {"datum": {"year": 2012, "month": 4, "date": 3, "hours": 18, "minutes": 55, "seconds": 30}},
            "y": {"field": "v", "type": "quantitative", "scale": {"domain": [-7, 52]}}
          }
        },
        {
          "data": {"name": "xt"},
          "mark": {"type": "rule", "color": "black", "strokeWidth": 1},
          "encoding": {
            "x": {"field": "t", "type": "temporal", "scale": {"domain": [{"year": 2012, "month": 4, "date": 3, "hours": 18, "minutes": 52}, {"year": 2012, "month": 4, "date": 4, "hours": 6, "minutes": 52}]}},
            "y": {"datum": -7, "type": "quantitative", "scale": {"domain": [-7, 52]}},
            "y2": {"datum": -6.5}
          }
        },
        {
          "data": {"name": "d"},
          "mark": {"type": "line", "color": "black", "strokeWidth": 1, "strokeDash": [1.5, 1.5]},
          "encoding": {
            "x": {"field": "t", "type": "temporal", "scale": {"domain": [{"year": 2012, "month": 4, "date": 3, "hours": 18, "minutes": 52}, {"year": 2012, "month": 4, "date": 4, "hours": 6, "minutes": 52}]}},
            "y": {"field": "v", "type": "quantitative", "scale": {"domain": [-7, 52]}}
          }
        },
        {
          "data": {"name": "m"},
          "mark": {"type": "line", "color": "#ff00ff", "strokeWidth": 1.2},
          "encoding": {
            "x": {"field": "t", "type": "temporal", "scale": {"domain": [{"year": 2012, "month": 4, "date": 3, "hours": 18, "minutes": 52}, {"year": 2012, "month": 4, "date": 4, "hours": 6, "minutes": 52}]}},
            "y": {"field": "v", "type": "quantitative", "scale": {"domain": [-7, 52]}}
          }
        },
        {
          "data": {"name": "g"},
          "mark": {"type": "line", "color": "#1b5e0f", "strokeWidth": 2},
          "encoding": {
            "x": {"field": "t", "type": "temporal", "scale": {"domain": [{"year": 2012, "month": 4, "date": 3, "hours": 18, "minutes": 52}, {"year": 2012, "month": 4, "date": 4, "hours": 6, "minutes": 52}]}},
            "y": {"field": "v", "type": "quantitative", "scale": {"domain": [-7, 52]}}
          }
        },
        {
          "data": {"name": "f"},
          "mark": {"type": "line", "color": "black", "strokeWidth": 1.1},
          "encoding": {
            "x": {"field": "t", "type": "temporal", "scale": {"domain": [{"year": 2012, "month": 4, "date": 3, "hours": 18, "minutes": 52}, {"year": 2012, "month": 4, "date": 4, "hours": 6, "minutes": 52}]}},
            "y": {"field": "ilp", "type": "quantitative", "scale": {"domain": [-7, 52]}}
          }
        },
        {
          "data": {"name": "b"},
          "mark": {"type": "line", "color": "#0000ff", "strokeWidth": 1.2},
          "encoding": {
            "x": {"field": "t", "type": "temporal", "scale": {"domain": [{"year": 2012, "month": 4, "date": 3, "hours": 18, "minutes": 52}, {"year": 2012, "month": 4, "date": 4, "hours": 6, "minutes": 52}]}},
            "y": {"field": "v", "type": "quantitative", "scale": {"domain": [-7, 52]}}
          }
        },
        {
          "data": {"name": "f"},
          "mark": {"type": "line", "color": "#ff0000", "strokeWidth": 1.1},
          "encoding": {
            "x": {"field": "t", "type": "temporal", "scale": {"domain": [{"year": 2012, "month": 4, "date": 3, "hours": 18, "minutes": 52}, {"year": 2012, "month": 4, "date": 4, "hours": 6, "minutes": 52}]}},
            "y": {"field": "ch1", "type": "quantitative", "scale": {"domain": [-7, 52]}}
          }
        },
        {
          "data": {"name": "e"},
          "mark": {"type": "text", "align": "center", "baseline": "middle", "fontSize": 10, "color": "black"},
          "encoding": {
            "x": {"datum": {"year": 2012, "month": 4, "date": 4, "hours": 7, "minutes": 8, "seconds": 36}, "type": "temporal", "scale": {"domain": [{"year": 2012, "month": 4, "date": 3, "hours": 18, "minutes": 52}, {"year": 2012, "month": 4, "date": 4, "hours": 6, "minutes": 52}]}},
            "y": {"field": "v", "type": "quantitative", "scale": {"domain": [-7, 52]}},
            "text": {"field": "v", "type": "quantitative", "format": ".1f"}
          }
        },
        {
          "data": {"values": [{}]},
          "mark": {"type": "text", "text": "Ottoteho ka. 488,0 W", "align": "left", "baseline": "middle", "fontSize": 18, "fontWeight": "bold", "color": "#ff0000"},
          "encoding": {
            "x": {"datum": {"year": 2012, "month": 4, "date": 4, "hours": 0, "minutes": 3, "seconds": 30}, "type": "temporal", "scale": {"domain": [{"year": 2012, "month": 4, "date": 3, "hours": 18, "minutes": 52}, {"year": 2012, "month": 4, "date": 4, "hours": 6, "minutes": 52}]}},
            "y": {"datum": 47.43, "type": "quantitative", "scale": {"domain": [-7, 52]}}
          }
        },
        {
          "data": {"values": [{}]},
          "mark": {"type": "text", "text": "Tue 3 Apr 2012", "align": "left", "baseline": "middle", "fontSize": 13, "color": "black"},
          "encoding": {
            "x": {"datum": {"year": 2012, "month": 4, "date": 3, "hours": 18, "minutes": 11}, "type": "temporal", "scale": {"domain": [{"year": 2012, "month": 4, "date": 3, "hours": 18, "minutes": 52}, {"year": 2012, "month": 4, "date": 4, "hours": 6, "minutes": 52}]}},
            "y": {"datum": -11.7, "type": "quantitative", "scale": {"domain": [-7, 52]}}
          }
        },
        {
          "data": {"values": [{}]},
          "mark": {"type": "text", "text": "CH1 max: 50.7, min: 25.0 °C", "align": "left", "baseline": "middle", "fontSize": 10, "color": "black"},
          "encoding": {
            "x": {"datum": {"year": 2012, "month": 4, "date": 3, "hours": 21, "minutes": 12, "seconds": 24}, "type": "temporal", "scale": {"domain": [{"year": 2012, "month": 4, "date": 3, "hours": 18, "minutes": 52}, {"year": 2012, "month": 4, "date": 4, "hours": 6, "minutes": 52}]}},
            "y": {"datum": -12.05, "type": "quantitative", "scale": {"domain": [-7, 52]}}
          }
        },
        {
          "data": {"values": [{}]},
          "mark": {"type": "text", "text": "CH2 max: 23.2, min: 21.6 °C", "align": "left", "baseline": "middle", "fontSize": 10, "color": "black"},
          "encoding": {
            "x": {"datum": {"year": 2012, "month": 4, "date": 3, "hours": 23, "minutes": 14, "seconds": 36}, "type": "temporal", "scale": {"domain": [{"year": 2012, "month": 4, "date": 3, "hours": 18, "minutes": 52}, {"year": 2012, "month": 4, "date": 4, "hours": 6, "minutes": 52}]}},
            "y": {"datum": -12.05, "type": "quantitative", "scale": {"domain": [-7, 52]}}
          }
        },
        {
          "data": {"values": [{}]},
          "mark": {"type": "text", "text": "04/04/12 06:52:04", "align": "right", "baseline": "middle", "fontSize": 12, "fontWeight": "bold", "color": "black"},
          "encoding": {
            "x": {"datum": {"year": 2012, "month": 4, "date": 4, "hours": 7, "minutes": 5, "seconds": 24}, "type": "temporal", "scale": {"domain": [{"year": 2012, "month": 4, "date": 3, "hours": 18, "minutes": 52}, {"year": 2012, "month": 4, "date": 4, "hours": 6, "minutes": 52}]}},
            "y": {"datum": -12.1, "type": "quantitative", "scale": {"domain": [-7, 52]}}
          }
        }
      ]
    },
    {
      "data": {"name": "lg"},
      "encoding": {
        "x": {"field": "ch", "type": "nominal", "scale": {"type": "point", "padding": 0.5, "domain": ["CH0", "CH1", "CH2", "CH3", "ILP", "CH4"]}, "axis": null}
      },
      "layer": [
        {
          "transform": [{"filter": "datum.ch != 'CH3'"}],
          "mark": {"type": "tick", "orient": "horizontal", "thickness": 5, "opacity": 1},
          "encoding": {
            "y": {"datum": 54.87, "type": "quantitative", "scale": {"domain": [-7, 52]}},
            "size": {"value": 40},
            "color": {"field": "ch", "type": "nominal", "scale": {"domain": ["CH0", "CH1", "CH2", "ILP", "CH4"], "range": ["#0000ff", "#ff0000", "#2e8010", "#000000", "#ff00ff"]}, "legend": null}
          }
        },
        {
          "transform": [{"filter": "datum.ch == 'CH3'"}],
          "encoding": {
            "y": {"datum": 54.87, "type": "quantitative", "scale": {"domain": [-7, 52]}},
            "size": {"value": 10}
          },
          "layer": [
            {"mark": {"type": "tick", "orient": "horizontal", "thickness": 5, "color": "black", "opacity": 1, "xOffset": -19}},
            {"mark": {"type": "tick", "orient": "horizontal", "thickness": 5, "color": "black", "opacity": 1, "xOffset": -6}},
            {"mark": {"type": "tick", "orient": "horizontal", "thickness": 5, "color": "black", "opacity": 1, "xOffset": 7}},
            {"mark": {"type": "tick", "orient": "horizontal", "thickness": 5, "color": "black", "opacity": 1, "xOffset": 20}}
          ]
        },
        {
          "mark": {"type": "text", "align": "left", "baseline": "middle", "dx": 30, "fontSize": 10, "fontWeight": "bold", "color": "black"},
          "encoding": {
            "y": {"datum": 54.87, "type": "quantitative", "scale": {"domain": [-7, 52]}},
            "text": {"field": "val"}
          }
        },
        {
          "mark": {"type": "text", "align": "center", "baseline": "middle", "fontSize": 13, "color": "black"},
          "encoding": {
            "y": {"datum": 53.02, "type": "quantitative", "scale": {"domain": [-7, 52]}},
            "text": {"field": "name"}
          }
        }
      ]
    }
  ]
}
